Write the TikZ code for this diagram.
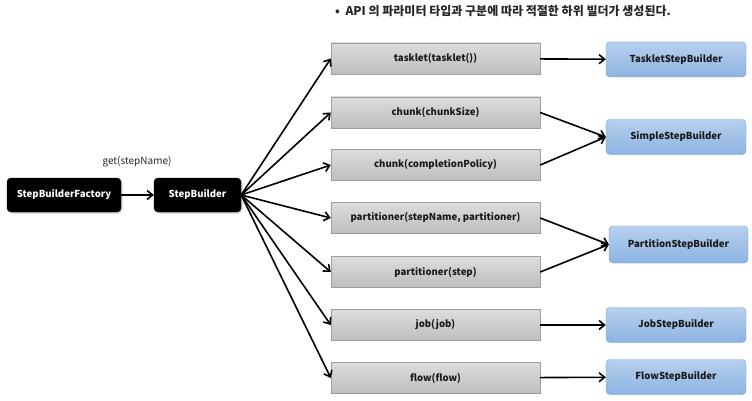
\documentclass[tikz,border=0pt]{standalone}
\usepackage{fontspec}
\setmainfont{Noto Sans CJK KR}
\usetikzlibrary{arrows.meta,shadows}
\definecolor{grayT}{HTML}{DCDCDC}
\definecolor{grayB}{HTML}{BEBEBE}
\definecolor{grayD}{HTML}{9E9E9E}
\definecolor{blueT}{HTML}{B7D0EE}
\definecolor{blueB}{HTML}{8DB3E2}
\definecolor{blueD}{HTML}{6F9FD6}
\tikzset{
  boxfont/.style={font=\bfseries\fontsize{9.6}{11}\selectfont},
  blackbox/.style={draw=black, fill=black, text=white, rounded corners=4pt, boxfont, minimum height=34pt, inner sep=2pt, drop shadow={shadow xshift=1.5pt, shadow yshift=-1.5pt, opacity=0.35}},
  graybox/.style={draw=grayD, top color=grayT, bottom color=grayB, text=black!90, boxfont, minimum width=209pt, minimum height=31pt, inner sep=2pt},
  bluebox/.style={draw=blueD, top color=blueT, bottom color=blueB, text=black!90, rounded corners=4pt, boxfont, minimum width=140pt, minimum height=35pt, inner sep=2pt},
  conn/.style={-{Straight Barb[length=5.5pt,width=9pt]}, line width=1.6pt, black}
}
\begin{document}
\begin{tikzpicture}[x=1pt,y=-1pt]
\useasboundingbox (0,0) rectangle (752,401);
\node[blackbox, minimum width=114pt] (f) at (64,195) {StepBuilderFactory};
\node[blackbox, minimum width=87pt] (sb) at (197.5,195) {StepBuilder};
\node[font=\fontsize{10}{12}\selectfont, text=black!85] (lbl) at (137,162) {get(stepName)};
\node[font=\bfseries\fontsize{12}{14}\selectfont, text=black!85, anchor=west, inner sep=0pt] (title) at (335,11) {•\ \ API 의 파라미터 타입과 구분에 따라 적절한 하위 빌더가 생성된다.};

\node[graybox] (g1) at (435.5,58.5) {tasklet(tasklet())};
\node[graybox] (g2) at (435.5,112.5) {chunk(chunkSize)};
\node[graybox] (g3) at (435.5,165) {chunk(completionPolicy)};
\node[graybox] (g4) at (435.5,218) {partitioner(stepName, partitioner)};
\node[graybox] (g5) at (435.5,272) {partitioner(step)};
\node[graybox] (g6) at (435.5,325) {job(job)};
\node[graybox] (g7) at (435.5,378) {flow(flow)};

\node[bluebox] (b1) at (676,59.5) {TaskletStepBuilder};
\node[bluebox] (b2) at (676,137) {SimpleStepBuilder};
\node[bluebox, minimum width=139pt, minimum height=37pt] (b3) at (678.5,244.5) {PartitionStepBuilder};
\node[bluebox] (b4) at (676,325) {JobStepBuilder};
\node[bluebox] (b5) at (676,377) {FlowStepBuilder};

\draw[conn] (f) -- (sb);
\foreach \g in {g1,g2,g3,g4,g5,g6,g7}
  \draw[conn] (sb.east) -- (\g.west);
\draw[conn] (g1) -- (b1);
\draw[conn] (g2.east) -- (b2.west);
\draw[conn] (g3.east) -- (b2.west);
\draw[conn] (g4.east) -- (b3.west);
\draw[conn] (g5.east) -- (b3.west);
\draw[conn] (g6) -- (b4);
\draw[conn] (g7) -- (b5);
\end{tikzpicture}
\end{document}
